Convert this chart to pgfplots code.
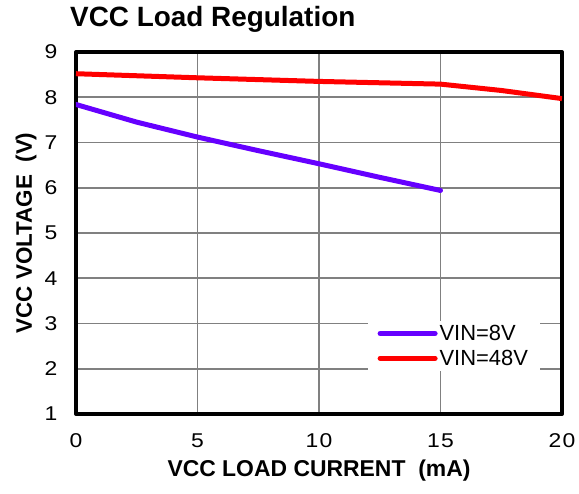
\documentclass[border=0pt]{standalone}
\usepackage{pgfplots}
\pgfplotsset{compat=1.18}
\usepackage{fontspec}
\setmainfont{Liberation Sans}
\newfontfamily\tickfont[FakeStretch=1.15,LetterSpace=6]{Liberation Sans}
\definecolor{vpurple}{HTML}{6600FF}
\definecolor{vred}{HTML}{FF0000}
\begin{document}
\begin{tikzpicture}
\begin{axis}[
  scale only axis, width=486bp, height=362bp,
  xmin=0, xmax=20, ymin=1, ymax=9,
  xtick={0,5,10,15,20}, ytick={1,2,3,4,5,6,7,8,9},
  grid=major, major grid style={draw=black!50, line width=1.8bp},
  axis line style={line width=4bp, line join=round},
  major tick length=0pt,
  /pgf/number format/assume math mode=true,
  tick label style={font=\tickfont\fontsize{20}{22}\selectfont},
  xticklabel style={yshift=-16bp},
  yticklabel style={xshift=-15bp},
  title={VCC Load Regulation},
  title style={at={(0,1)}, anchor=base west, xshift=-6bp, yshift=20bp, font=\bfseries\fontsize{28}{31}\selectfont, inner sep=0pt},
  xlabel={VCC LOAD CURRENT\ \ (mA)},
  xlabel style={font=\bfseries\fontsize{23}{26}\selectfont, at={(0.5,0)}, anchor=base, yshift=-62bp, inner sep=0pt},
  ylabel={VCC VOLTAGE\ \ (V)},
  ylabel style={font=\bfseries\fontsize{22.5}{26}\selectfont, at={(0,0.5)}, anchor=base, yshift=44bp, inner sep=0pt},
  legend style={at={(0.955,0.119)}, anchor=south east, draw=none, fill=white,
    font=\fontsize{22}{25}\selectfont, inner xsep=10bp, inner ysep=2bp,
    row sep=4bp, cells={anchor=west},
    /tikz/every even column/.style={column sep=3bp}},
  legend image code/.code={\draw[#1, line cap=round] (0bp,0bp) -- (55bp,0bp);},
  legend cell align=left,
]
\addplot[vpurple, line width=5bp, line cap=round] coordinates {
  (0,7.84) (2.5,7.45) (5,7.12) (7.5,6.82) (10,6.53) (12.5,6.23) (15,5.94)
};
\addlegendentry{VIN=8V}
\addplot[vred, line width=5bp] coordinates {
  (0,8.52) (5,8.43) (10,8.35) (15,8.29) (17.5,8.15) (20,7.97)
};
\addlegendentry{VIN=48V}
\end{axis}
\pgfresetboundingbox
\path ([xshift=-76bp,yshift=-80bp]current axis.south west) rectangle ([xshift=17bp,yshift=52bp]current axis.north east);
\end{tikzpicture}
\end{document}
